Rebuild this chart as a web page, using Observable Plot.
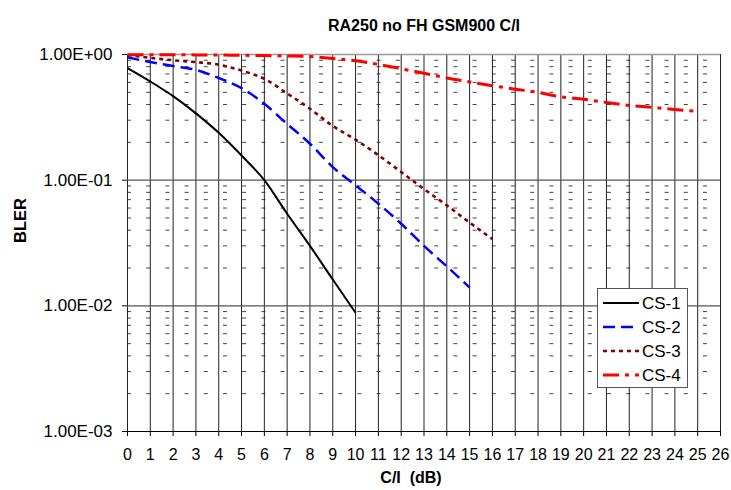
<!DOCTYPE html>
<html>
<head>
<meta charset="utf-8">
<script src="https://cdn.jsdelivr.net/npm/d3@7"></script>
<script src="https://cdn.jsdelivr.net/npm/@observablehq/plot@0.6"></script>
<style>
  html, body { margin: 0; padding: 0; background: #fff; }
  #wrap { position: relative; width: 731px; height: 490px; font-family: "Liberation Sans", Arial, sans-serif; }
  #legend { position: absolute; left: 597px; top: 288px; width: 89px; height: 98px; border: 1px solid #555; background: #fff; box-sizing: content-box; }
</style>
</head>
<body>
<div id="wrap"></div>
<script>
// ---- data ----
const ciValues = [0,1,2,3,4,5,6,7,8,9,10,11,12,13,14,15,16,17,18,19,20,21,22,23,24,25];
const seriesNames = ["CS-1","CS-2","CS-3","CS-4"];
const cs1 = [0.78, 0.61, 0.466, 0.34, 0.238, 0.157, 0.1, 0.054, 0.030, 0.0162, 0.0088];
const cs2 = [0.95, 0.87, 0.81, 0.755, 0.65, 0.54, 0.405, 0.28, 0.195, 0.127, 0.091, 0.065, 0.045, 0.030, 0.0206, 0.014];
const cs3 = [0.99, 0.94, 0.90, 0.87, 0.83, 0.745, 0.64, 0.49, 0.37, 0.27, 0.21, 0.158, 0.116, 0.085, 0.063, 0.046, 0.034];
const cs4 = [0.995, 0.995, 0.995, 0.993, 0.99, 0.985, 0.98, 0.975, 0.965, 0.93, 0.89, 0.835, 0.77, 0.71, 0.65, 0.605, 0.565, 0.53, 0.50, 0.46, 0.44, 0.415, 0.393, 0.38, 0.365, 0.352];
const xTicks = [0,1,2,3,4,5,6,7,8,9,10,11,12,13,14,15,16,17,18,19,20,21,22,23,24,25,26];
const yTicks = [1, 0.1, 0.01, 0.001];
const yTickLabels = ["1.00E+00", "1.00E-01", "1.00E-02", "1.00E-03"];
const yMinor = [0.002,0.003,0.004,0.005,0.006,0.007,0.008,0.009,
                0.02,0.03,0.04,0.05,0.06,0.07,0.08,0.09,
                0.2,0.3,0.4,0.5,0.6,0.7,0.8,0.9];
const titleText = "RA250 no FH GSM900 C/I";
const xLabel = "C/I\u00a0 (dB)";
const yLabel = "BLER";

// ---- styles ----
const colors = ["#000000", "#0000FF", "#800000", "#FF0000"];
const dashes = [null, "12,6", "4,4", "16,6,4,6"];
const widths = [2, 2.5, 2.6, 3];

const valueLists = [cs1, cs2, cs3, cs4];
const rows = [];
valueLists.forEach((vals, s) => vals.forEach((v, i) => rows.push({ci: ciValues[i], bler: v, series: seriesNames[s]})));

const chart = Plot.plot({
  width: 731,
  height: 490,
  marginLeft: 127,
  marginRight: 11,
  marginTop: 54,
  marginBottom: 59,
  style: {fontFamily: "'Liberation Sans', Arial, sans-serif", fontSize: "16px", background: "#fff", color: "#000"},
  x: {domain: [0, 26], label: null},
  y: {type: "log", domain: [0.001, 1], label: null},
  marks: [
    Plot.ruleY(yMinor, {stroke: "#444", strokeWidth: 1, strokeDasharray: "4,15.2"}),
    Plot.ruleX(xTicks, {stroke: "#222", strokeWidth: 1}),
    Plot.ruleY([0.1, 0.01], {stroke: "#555", strokeWidth: 1.2}),
    Plot.ruleY([1], {stroke: "#999", strokeWidth: 1.5}),
    Plot.ruleY([0.001], {stroke: "#000", strokeWidth: 1}),
    ...seriesNames.map((name, s) => Plot.line(rows.filter(r => r.series === name), {
      x: "ci", y: "bler", stroke: colors[s], strokeWidth: widths[s],
      strokeDasharray: dashes[s], strokeLinecap: "butt", strokeLinejoin: "round", curve: "monotone-x"
    })),
    Plot.axisY({ticks: yTicks, tickFormat: d => yTickLabels[yTicks.indexOf(d)], tickSize: 5, tickPadding: 10, fontSize: 17, label: null}),
    Plot.axisX({ticks: xTicks, tickSize: 5, tickPadding: 12, fontSize: 16, label: null}),
    Plot.text([titleText], {frameAnchor: "top", dy: -35, fontWeight: "bold", fontSize: 16}),
    Plot.text([xLabel], {frameAnchor: "bottom", dy: 51, dx: -13, fontWeight: "bold", fontSize: 16}),
    Plot.text([yLabel], {frameAnchor: "left", dx: -107, rotate: -90, fontWeight: "bold", fontSize: 16.5})
  ]
});

const wrap = document.getElementById("wrap");
wrap.appendChild(chart);

// ---- legend ----
const legend = document.createElement("div");
legend.id = "legend";
const ns = "http://www.w3.org/2000/svg";
const lsvg = document.createElementNS(ns, "svg");
lsvg.setAttribute("width", 89);
lsvg.setAttribute("height", 98);
seriesNames.forEach((name, s) => {
  const cy = 14 + s * 24;
  const ln = document.createElementNS(ns, "line");
  ln.setAttribute("x1", 5); ln.setAttribute("x2", 41);
  ln.setAttribute("y1", cy); ln.setAttribute("y2", cy);
  ln.setAttribute("stroke", colors[s]);
  ln.setAttribute("stroke-width", widths[s]);
  if (dashes[s]) ln.setAttribute("stroke-dasharray", dashes[s]);
  lsvg.appendChild(ln);
  const tx = document.createElementNS(ns, "text");
  tx.setAttribute("x", 44); tx.setAttribute("y", cy);
  tx.setAttribute("dy", "0.35em");
  tx.setAttribute("font-size", 17);
  tx.setAttribute("font-family", "'Liberation Sans', Arial, sans-serif");
  tx.textContent = name;
  lsvg.appendChild(tx);
});
legend.appendChild(lsvg);
wrap.appendChild(legend);
</script>
</body>
</html>
